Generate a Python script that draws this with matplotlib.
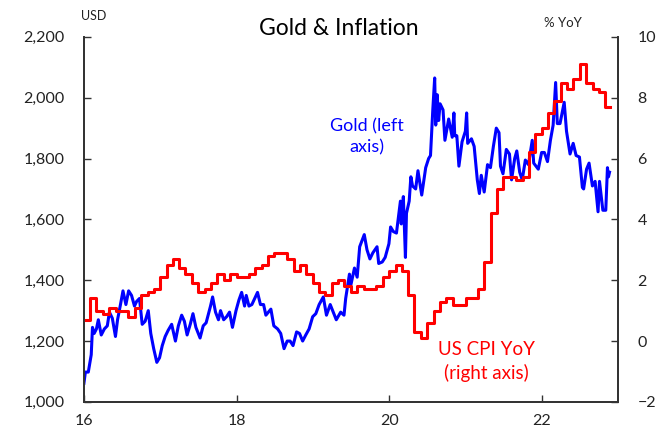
import pandas as pd
import matplotlib.pyplot as plt

# gold price, USD/oz
gold_dates = [
    "2016-01-01", "2016-01-08", "2016-01-22", "2016-02-05", "2016-02-11", "2016-02-19",
    "2016-03-01", "2016-03-10", "2016-03-24", "2016-04-08", "2016-04-22", "2016-05-02",
    "2016-05-16", "2016-05-31", "2016-06-10", "2016-06-24", "2016-07-06", "2016-07-20",
    "2016-08-02", "2016-08-16", "2016-08-30", "2016-09-09", "2016-09-23", "2016-10-06",
    "2016-10-20", "2016-11-04", "2016-11-16", "2016-11-30", "2016-12-15", "2016-12-28",
    "2017-01-10", "2017-01-24", "2017-02-07", "2017-02-24", "2017-03-14", "2017-03-28",
    "2017-04-13", "2017-04-26", "2017-05-09", "2017-05-24", "2017-06-06", "2017-06-20",
    "2017-07-10", "2017-07-25", "2017-08-08", "2017-08-29", "2017-09-08", "2017-09-22",
    "2017-10-06", "2017-10-16", "2017-10-31", "2017-11-14", "2017-11-28", "2017-12-12",
    "2017-12-29", "2018-01-12", "2018-01-25", "2018-02-08", "2018-02-16", "2018-03-01",
    "2018-03-15", "2018-04-11", "2018-04-25", "2018-05-10", "2018-05-21", "2018-06-14",
    "2018-06-28", "2018-07-16", "2018-07-31", "2018-08-16", "2018-08-31", "2018-09-14",
    "2018-09-28", "2018-10-15", "2018-10-29", "2018-11-13", "2018-11-28", "2018-12-14",
    "2018-12-31", "2019-01-15", "2019-01-31", "2019-02-20", "2019-03-07", "2019-03-25",
    "2019-04-23", "2019-05-14", "2019-05-30", "2019-06-07", "2019-06-25", "2019-07-02",
    "2019-07-19", "2019-08-01", "2019-08-13", "2019-09-04", "2019-09-17", "2019-10-01",
    "2019-10-15", "2019-11-04", "2019-11-12", "2019-11-29", "2019-12-13", "2019-12-31",
    "2020-01-08", "2020-01-21", "2020-02-05", "2020-02-24", "2020-02-28", "2020-03-09",
    "2020-03-19", "2020-03-24", "2020-04-06", "2020-04-14", "2020-04-22", "2020-05-07",
    "2020-05-18", "2020-06-05", "2020-06-24", "2020-07-08", "2020-07-17", "2020-07-28",
    "2020-08-06", "2020-08-11", "2020-08-18", "2020-08-25", "2020-09-01", "2020-09-15",
    "2020-09-24", "2020-10-12", "2020-10-29", "2020-11-06", "2020-11-10", "2020-11-20",
    "2020-11-30", "2020-12-15", "2020-12-31", "2021-01-06", "2021-01-11", "2021-01-29",
    "2021-02-11", "2021-02-26", "2021-03-08", "2021-03-17", "2021-03-31", "2021-04-16",
    "2021-04-30", "2021-05-14", "2021-05-28", "2021-06-10", "2021-06-17", "2021-06-29",
    "2021-07-15", "2021-07-30", "2021-08-09", "2021-08-24", "2021-09-03", "2021-09-17",
    "2021-09-29", "2021-10-14", "2021-10-29", "2021-11-16", "2021-11-23", "2021-12-15",
    "2021-12-31", "2022-01-13", "2022-01-28", "2022-02-11", "2022-02-24", "2022-03-08",
    "2022-03-16", "2022-03-29", "2022-04-18", "2022-04-29", "2022-05-16", "2022-05-31",
    "2022-06-14", "2022-06-30", "2022-07-14", "2022-07-20", "2022-08-03", "2022-08-15",
    "2022-08-31", "2022-09-13", "2022-09-27", "2022-10-04", "2022-10-20", "2022-11-03",
    "2022-11-11", "2022-11-16", "2022-11-21",
]
gold_usd = [
    1061, 1098, 1098, 1155, 1245, 1225,
    1240, 1270, 1220, 1240, 1250, 1295,
    1275, 1215, 1270, 1320, 1365, 1320,
    1365, 1350, 1315, 1330, 1340, 1255,
    1265, 1300, 1225, 1175, 1130, 1145,
    1185, 1215, 1235, 1255, 1200, 1250,
    1285, 1265, 1220, 1255, 1290, 1245,
    1210, 1250, 1260, 1315, 1345, 1295,
    1270, 1300, 1270, 1280, 1295, 1245,
    1300, 1335, 1360, 1315, 1350, 1315,
    1320, 1360, 1320, 1320, 1285, 1305,
    1250, 1240, 1225, 1175, 1200, 1200,
    1185, 1230, 1225, 1200, 1220, 1240,
    1280, 1290, 1320, 1345, 1285, 1320,
    1270, 1295, 1285, 1340, 1420, 1385,
    1440, 1410, 1510, 1550, 1500, 1470,
    1490, 1510, 1455, 1460, 1475, 1520,
    1575, 1560, 1555, 1660, 1585, 1675,
    1475, 1620, 1660, 1740, 1710, 1700,
    1760, 1680, 1770, 1800, 1810, 1960,
    2065, 1910, 2010, 1925, 1980, 1960,
    1860, 1930, 1870, 1950, 1875, 1875,
    1775, 1855, 1890, 1950, 1850, 1865,
    1840, 1730, 1685, 1745, 1690, 1780,
    1770, 1840, 1900, 1885, 1775, 1750,
    1830, 1815, 1730, 1800, 1825, 1755,
    1730, 1795, 1780, 1860, 1785, 1765,
    1820, 1820, 1790, 1860, 1910, 2050,
    1915, 1915, 1985, 1890, 1815, 1850,
    1810, 1805, 1705, 1700, 1765, 1785,
    1710, 1725, 1625, 1725, 1630, 1630,
    1770, 1740, 1755,
]

# US CPI YoY, % (as published, so one month behind)
cpi_start = "2016-01-01"
cpi_yoy = [
    0.7, 1.4, 1.0, 0.9, 1.1, 1.0, 1.0, 0.8, 1.1, 1.5, 1.6, 1.7,
    2.1, 2.5, 2.7, 2.4, 2.2, 1.9, 1.6, 1.7, 1.9, 2.2, 2.0, 2.2,
    2.1, 2.1, 2.2, 2.4, 2.5, 2.8, 2.9, 2.9, 2.7, 2.3, 2.5, 2.2,
    1.9, 1.6, 1.5, 1.9, 2.0, 1.8, 1.6, 1.8, 1.7, 1.7, 1.8, 2.1,
    2.3, 2.5, 2.3, 1.5, 0.3, 0.1, 0.6, 1.0, 1.3, 1.4, 1.2, 1.2,
    1.4, 1.4, 1.7, 2.6, 4.2, 5.0, 5.4, 5.4, 5.3, 5.4, 6.2, 6.8,
    7.0, 7.5, 7.9, 8.5, 8.3, 8.6, 9.1, 8.5, 8.3, 8.2, 7.7,
]
cpi_end = "2022-11-21"

x_ticks = [16, 18, 20, 22]
left_ticks = [1000, 1200, 1400, 1600, 1800, 2000, 2200]
right_ticks = [-2, 0, 2, 4, 6, 8, 10]


def to_year(d):
    d = pd.to_datetime(d)
    return 16 + (d - pd.Timestamp("2016-01-01")).days / 365.25


gx = [to_year(d) for d in gold_dates]
cpi_dates = list(pd.date_range(cpi_start, periods=len(cpi_yoy), freq="MS")) + [pd.Timestamp(cpi_end)]
cx = [to_year(d) for d in cpi_dates]
cy = cpi_yoy + [cpi_yoy[-1]]

plt.rcParams['font.family'] = ['Lato', 'DejaVu Sans']

fig = plt.figure(figsize=(6.66, 4.34), dpi=100)
ax = fig.add_axes([0.126, 0.074, 0.802, 0.841])
ax2 = ax.twinx()

ax.plot(gx, gold_usd, color='#0000ff', lw=2.2)
ax2.step(cx, cy, where='post', color='#ff0000', lw=2.2)

ax.set_xlim(16, 23)
ax.set_ylim(1000, 2200)
ax2.set_ylim(-2, 10)
ax.set_xticks(x_ticks)
ax.set_xticklabels([str(t) for t in x_ticks])
ax.set_yticks(left_ticks)
ax.set_yticklabels([f"{t:,}" for t in left_ticks])
ax2.set_yticks(right_ticks)

for a in (ax, ax2):
    a.spines['top'].set_visible(False)
    for s in a.spines.values():
        s.set_color('#333333')
        s.set_linewidth(1.3)
ax.tick_params(axis='both', direction='in', length=5, width=1, colors='#333333',
               labelcolor='#222222', labelsize=11.5)
ax.tick_params(axis='x', pad=9)
ax.tick_params(axis='y', pad=14)
ax2.tick_params(axis='y', direction='in', length=5, width=1, colors='#333333',
                labelcolor='#222222', labelsize=11.5, pad=14)

fig.text(0.508, 0.935, "Gold & Inflation", ha='center', va='center', fontsize=16.5, color='black')
fig.text(0.140, 0.962, "USD", ha='center', va='center', fontsize=9, color='#222222')
fig.text(0.845, 0.948, "% YoY", ha='center', va='center', fontsize=9.5, color='#222222')
fig.text(0.551, 0.685, "Gold (left\naxis)", ha='center', va='center', fontsize=13,
         color='#0000ff', linespacing=1.4)
fig.text(0.731, 0.167, "US CPI YoY\n(right axis)", ha='center', va='center', fontsize=13.5,
         color='#ff0000', linespacing=1.4)

fig.savefig("out.png", dpi=100)
